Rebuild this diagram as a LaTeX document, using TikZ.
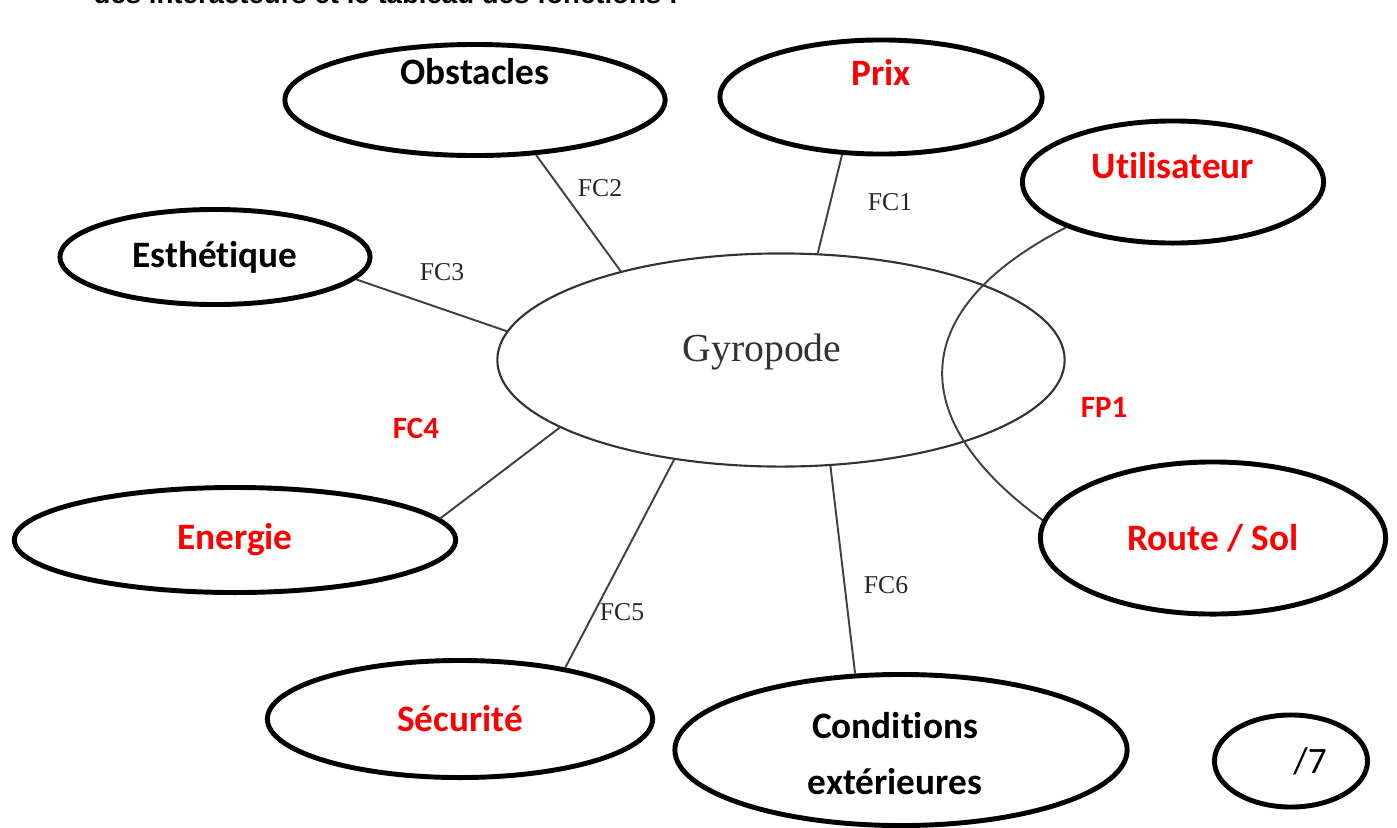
\documentclass[tikz,border=0pt]{standalone}
\usepackage{fontspec}
\setmainfont{Carlito}[RawFeature={-liga;-clig;-calt;-dlig}]
\newfontfamily\serifft{Liberation Serif}
\newfontfamily\headft{Liberation Sans}
\usepackage{tikz}
\usetikzlibrary{shapes.geometric}

\begin{document}
\begin{tikzpicture}[x=0.01cm, y=-0.01cm,
        actor/.style={ellipse, draw=black, line width=1.4pt, inner sep=0pt},
        nametxt/.style={font=\fontsize{10.6}{12.5}\selectfont\bfseries, align=center},
        redtxt/.style={nametxt, text=red},
        link/.style={draw=black!75, line width=0.55pt},
        fclab/.style={font=\serifft\fontsize{7.3}{8}\selectfont, text=black!85},
        fplab/.style={font=\fontsize{8.8}{10}\selectfont\bfseries, text=red}]
        \useasboundingbox (0,0) rectangle (1397,827);
        
        % ligne du titre, coupee en haut
        \node[anchor=base west, inner sep=0pt, font=\headft\fontsize{7.85}{9}\selectfont\bfseries] (head) at (93,3) {des interacteurs et le tableau des fonctions :};
        
        % le systeme
        \node[ellipse, draw=black!80, line width=0.6pt, minimum width=5.67cm, minimum height=2.13cm,
              label={[font=\serifft\fontsize{11.3}{13}\selectfont, text=black!80, xshift=-0.19cm, yshift=0.08cm]center:Gyropode}] (gyro) at (781,360) {};
        
        % les interacteurs
        \node[actor, minimum width=3.8cm, minimum height=1.11cm, label={[nametxt, yshift=0.28cm]center:Obstacles}] (obst) at (475,100) {};
        \node[actor, minimum width=3.22cm, minimum height=1.14cm, label={[redtxt, yshift=0.25cm]center:Prix}] (prix) at (881,97) {};
        \node[actor, minimum width=3.01cm, minimum height=1.22cm, label={[redtxt, yshift=0.16cm]center:Utilisateur}] (util) at (1173,182) {};
        \node[actor, minimum width=3.1cm, minimum height=0.95cm, label={[nametxt]center:Esthétique}] (esth) at (215,257) {};
        \node[actor, minimum width=4.41cm, minimum height=1.05cm, label={[redtxt]center:Energie}] (ener) at (235,540) {};
        \node[actor, minimum width=3.45cm, minimum height=1.52cm, label={[redtxt]center:Route / Sol}] (route) at (1213,538) {};
        \node[actor, minimum width=3.85cm, minimum height=1.17cm, label={[redtxt]center:Sécurité}] (secu) at (460,719) {};
        \node[actor, minimum width=4.52cm, minimum height=1.51cm, label={[nametxt, xshift=-0.06cm, yshift=-0.04cm]center:Conditions\\[0.12cm]extérieures}] (cond) at (901,750) {};
        \node[actor, minimum width=1.53cm, minimum height=0.92cm, label={[font=\fontsize{10.6}{12}\selectfont, xshift=0.19cm]center:/7}] (note) at (1291,761) {};
        
        % fonctions
        \draw[link] (obst.-42) -- (gyro.151);
        \draw[link] (prix.-124) -- (gyro.71);
        \draw[link] (esth.-9) -- (gyro.174);
        \draw[link] (ener.6) -- (gyro.-163);
        \draw[link] (secu.26) -- (gyro.-137);
        \draw[link] (cond.121) -- (gyro.-65);
        \draw[link] (util.203) .. controls (905,310) and (905,420) .. (route.174);
        
        \node[fclab] (fc1) at (890,202) {FC1};
        \node[fclab] (fc2) at (600,188) {FC2};
        \node[fclab] (fc3) at (442,272) {FC3};
        \node[fplab] (fc4) at (416,428) {FC4};
        \node[fclab] (fc5) at (622,612) {FC5};
        \node[fclab] (fc6) at (886,585) {FC6};
        \node[fplab] (fp1) at (1104,407) {FP1};
        
\end{tikzpicture}
\end{document}
